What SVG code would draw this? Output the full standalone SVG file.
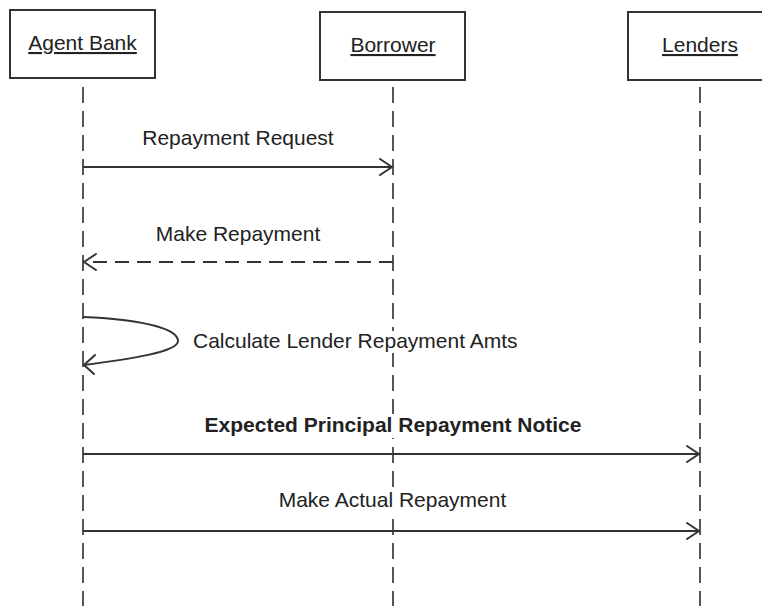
<svg xmlns="http://www.w3.org/2000/svg" width="762" height="606" viewBox="0 0 762 606">
  <style>
    text { font-family: "Liberation Sans", Arial, sans-serif; font-size: 21px; fill: #222; }
    .title { text-anchor: middle; text-decoration: underline; }
    .lbl { text-anchor: middle; }
    .bold { font-weight: bold; }
    .box { fill: #fff; stroke: #333; stroke-width: 2; }
    .life { stroke: #555; stroke-width: 2; stroke-dasharray: 16 8; fill: none; }
    .msg { stroke: #333; stroke-width: 2; fill: none; }
    .dash { stroke-dasharray: 14 8; }
    .head { stroke: #333; stroke-width: 2; fill: none; stroke-linecap: round; stroke-linejoin: round; }
    .bg { fill: #fff; }
  </style>
  <defs>
    <marker id="open" viewBox="0 0 14 18" refX="13" refY="9" markerWidth="14" markerHeight="18" markerUnits="userSpaceOnUse" orient="auto">
      <path d="M1,1 L13,9 L1,17" class="head"/>
    </marker>
  </defs>

  <!-- lifelines -->
  <g id="lifelines">
    <line class="life" x1="83" y1="87" x2="83" y2="606"/>
    <line class="life" x1="393" y1="87" x2="393" y2="606"/>
    <line class="life" x1="700" y1="87" x2="700" y2="606"/>
  </g>

  <!-- participants -->
  <g id="agent-bank">
    <rect class="box" x="10" y="10" width="145" height="68"/>
    <text class="title" x="82.5" y="50">Agent Bank</text>
  </g>
  <g id="borrower">
    <rect class="box" x="320" y="12" width="145" height="68"/>
    <text class="title" x="393" y="52">Borrower</text>
  </g>
  <g id="lenders">
    <rect class="box" x="628" y="12" width="145" height="68"/>
    <text class="title" x="700" y="52">Lenders</text>
  </g>

  <!-- messages -->
  <g id="connectors">
    <line class="msg" x1="83" y1="167" x2="392" y2="167" marker-end="url(#open)"/>
    <line class="msg dash" x1="393" y1="262" x2="84" y2="262" marker-end="url(#open)"/>
    <path class="msg" d="M83,317 C150,320 178,330 178,341 C178,352 130,359 84,365"/>
    <path class="head" d="M95,355 L84,365 L94,374"/>
    <line class="msg" x1="83" y1="454" x2="699" y2="454" marker-end="url(#open)"/>
    <line class="msg" x1="83" y1="531" x2="699" y2="531" marker-end="url(#open)"/>
  </g>

  <!-- message labels -->
  <g id="labels">
    <text class="lbl" x="238" y="145">Repayment Request</text>
    <text class="lbl" x="238" y="241">Make Repayment</text>
    <rect class="bg" x="192" y="331" width="332" height="22"/>
    <text x="193" y="348">Calculate Lender Repayment Amts</text>
    <rect class="bg" x="202" y="414" width="383" height="24"/>
    <text class="lbl bold" x="393" y="432">Expected Principal Repayment Notice</text>
    <rect class="bg" x="276" y="489" width="234" height="23"/>
    <text class="lbl" x="392.5" y="507">Make Actual Repayment</text>
  </g>
</svg>
